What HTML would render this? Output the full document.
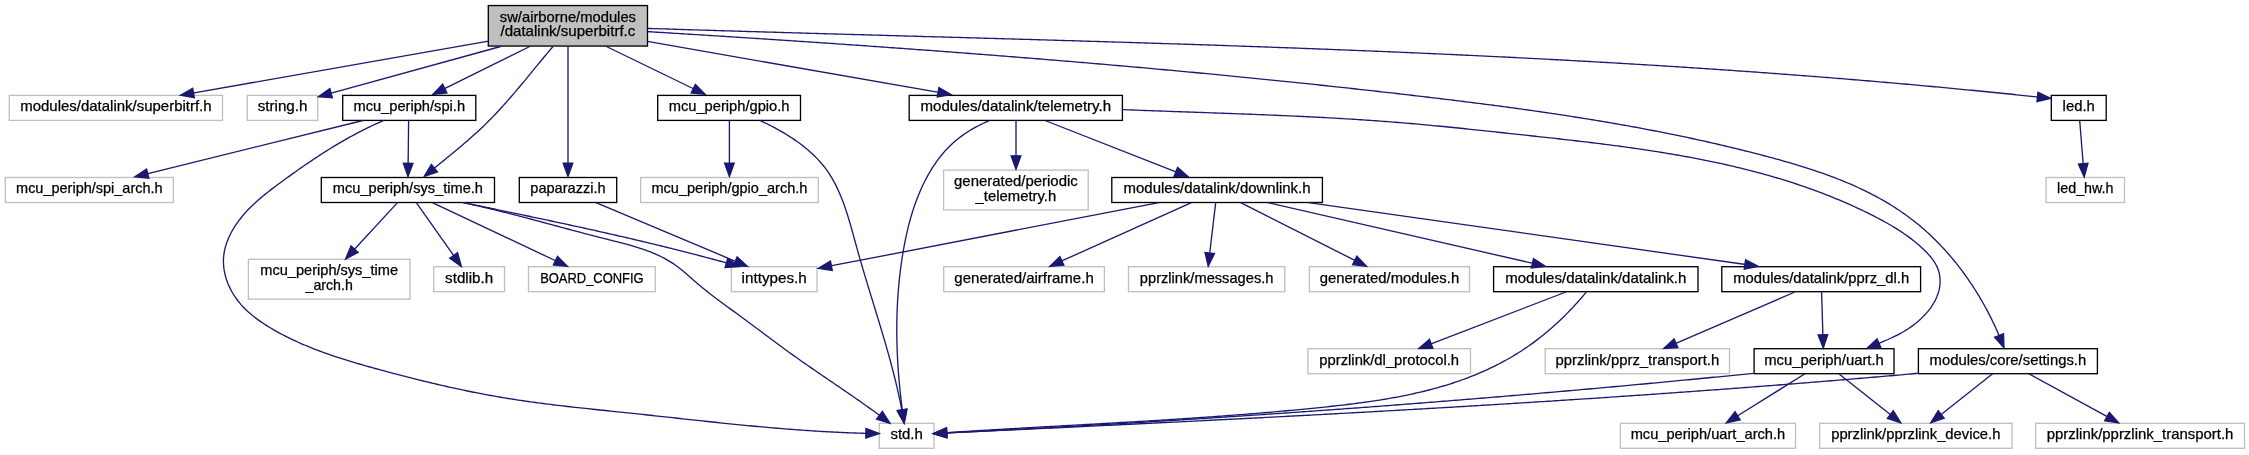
<!DOCTYPE html><html><head><meta charset="utf-8"><style>html,body{margin:0;padding:0;background:#fff;width:2249px;height:455px;overflow:hidden}svg{display:block;will-change:transform}text{font-family:"Liberation Sans",sans-serif;font-size:13.9px;fill:#000;stroke:#000;stroke-width:0.25px}</style></head><body>
<svg width="2249" height="455" viewBox="0 0 2249 455">
<rect x="0" y="0" width="2249" height="455" fill="#fff"/>
<rect x="488.30" y="5.55" width="159.20" height="40.50" fill="#bfbfbf" stroke="#000" stroke-width="1.33"/>
<text x="567.90" y="21.50" text-anchor="middle" textLength="136.14" lengthAdjust="spacingAndGlyphs">sw/airborne/modules</text>
<text x="567.90" y="36.40" text-anchor="middle" textLength="134.85" lengthAdjust="spacingAndGlyphs">/datalink/superbitrf.c</text>
<rect x="9.30" y="95.40" width="213.20" height="25.00" fill="#fff" stroke="#bfbfbf" stroke-width="1.33"/>
<text x="115.90" y="110.90" text-anchor="middle" textLength="191.44" lengthAdjust="spacingAndGlyphs">modules/datalink/superbitrf.h</text>
<rect x="247.30" y="95.40" width="70.50" height="25.00" fill="#fff" stroke="#bfbfbf" stroke-width="1.33"/>
<text x="282.55" y="110.90" text-anchor="middle" textLength="49.69" lengthAdjust="spacingAndGlyphs">string.h</text>
<rect x="342.70" y="95.40" width="133.10" height="25.00" fill="#fff" stroke="#000" stroke-width="1.33"/>
<text x="409.25" y="110.90" text-anchor="middle" textLength="111.64" lengthAdjust="spacingAndGlyphs">mcu_periph/spi.h</text>
<rect x="657.70" y="95.40" width="142.80" height="25.00" fill="#fff" stroke="#000" stroke-width="1.33"/>
<text x="729.10" y="110.90" text-anchor="middle" textLength="120.84" lengthAdjust="spacingAndGlyphs">mcu_periph/gpio.h</text>
<rect x="909.20" y="95.40" width="213.20" height="25.00" fill="#fff" stroke="#000" stroke-width="1.33"/>
<text x="1015.80" y="110.90" text-anchor="middle" textLength="190.54" lengthAdjust="spacingAndGlyphs">modules/datalink/telemetry.h</text>
<rect x="2051.30" y="95.40" width="54.90" height="25.00" fill="#fff" stroke="#000" stroke-width="1.33"/>
<text x="2078.75" y="110.90" text-anchor="middle" textLength="32.23" lengthAdjust="spacingAndGlyphs">led.h</text>
<rect x="5.30" y="177.50" width="168.10" height="25.00" fill="#fff" stroke="#bfbfbf" stroke-width="1.33"/>
<text x="89.35" y="193.00" text-anchor="middle" textLength="146.55" lengthAdjust="spacingAndGlyphs">mcu_periph/spi_arch.h</text>
<rect x="321.30" y="177.50" width="173.20" height="25.00" fill="#fff" stroke="#000" stroke-width="1.33"/>
<text x="407.90" y="193.00" text-anchor="middle" textLength="150.11" lengthAdjust="spacingAndGlyphs">mcu_periph/sys_time.h</text>
<rect x="519.30" y="177.50" width="97.40" height="25.00" fill="#fff" stroke="#000" stroke-width="1.33"/>
<text x="568.00" y="193.00" text-anchor="middle" textLength="75.38" lengthAdjust="spacingAndGlyphs">paparazzi.h</text>
<rect x="640.60" y="177.50" width="177.70" height="25.00" fill="#fff" stroke="#bfbfbf" stroke-width="1.33"/>
<text x="729.45" y="193.00" text-anchor="middle" textLength="155.98" lengthAdjust="spacingAndGlyphs">mcu_periph/gpio_arch.h</text>
<rect x="943.60" y="170.10" width="144.60" height="39.80" fill="#fff" stroke="#bfbfbf" stroke-width="1.33"/>
<text x="1015.90" y="185.70" text-anchor="middle" textLength="123.70" lengthAdjust="spacingAndGlyphs">generated/periodic</text>
<text x="1015.90" y="200.60" text-anchor="middle" textLength="80.52" lengthAdjust="spacingAndGlyphs">_telemetry.h</text>
<rect x="1111.80" y="177.50" width="210.60" height="25.00" fill="#fff" stroke="#000" stroke-width="1.33"/>
<text x="1217.10" y="193.00" text-anchor="middle" textLength="186.96" lengthAdjust="spacingAndGlyphs">modules/datalink/downlink.h</text>
<rect x="2046.10" y="177.50" width="78.40" height="25.00" fill="#fff" stroke="#bfbfbf" stroke-width="1.33"/>
<text x="2085.30" y="193.00" text-anchor="middle" textLength="56.41" lengthAdjust="spacingAndGlyphs">led_hw.h</text>
<rect x="248.40" y="259.30" width="161.60" height="39.80" fill="#fff" stroke="#bfbfbf" stroke-width="1.33"/>
<text x="329.20" y="274.90" text-anchor="middle" textLength="137.74" lengthAdjust="spacingAndGlyphs">mcu_periph/sys_time</text>
<text x="329.20" y="289.80" text-anchor="middle" textLength="47.28" lengthAdjust="spacingAndGlyphs">_arch.h</text>
<rect x="433.70" y="266.70" width="70.80" height="25.00" fill="#fff" stroke="#bfbfbf" stroke-width="1.33"/>
<text x="469.10" y="283.20" text-anchor="middle" textLength="47.97" lengthAdjust="spacingAndGlyphs">stdlib.h</text>
<rect x="528.50" y="266.70" width="126.80" height="25.00" fill="#fff" stroke="#bfbfbf" stroke-width="1.33"/>
<text x="591.90" y="283.20" text-anchor="middle" textLength="103.55" lengthAdjust="spacingAndGlyphs">BOARD_CONFIG</text>
<rect x="731.40" y="266.70" width="85.60" height="25.00" fill="#fff" stroke="#bfbfbf" stroke-width="1.33"/>
<text x="774.20" y="283.20" text-anchor="middle" textLength="65.13" lengthAdjust="spacingAndGlyphs">inttypes.h</text>
<rect x="943.70" y="266.70" width="160.70" height="25.00" fill="#fff" stroke="#bfbfbf" stroke-width="1.33"/>
<text x="1024.05" y="283.20" text-anchor="middle" textLength="139.37" lengthAdjust="spacingAndGlyphs">generated/airframe.h</text>
<rect x="1128.50" y="266.70" width="156.30" height="25.00" fill="#fff" stroke="#bfbfbf" stroke-width="1.33"/>
<text x="1206.65" y="283.20" text-anchor="middle" textLength="133.61" lengthAdjust="spacingAndGlyphs">pprzlink/messages.h</text>
<rect x="1309.40" y="266.70" width="160.10" height="25.00" fill="#fff" stroke="#bfbfbf" stroke-width="1.33"/>
<text x="1389.45" y="283.20" text-anchor="middle" textLength="139.39" lengthAdjust="spacingAndGlyphs">generated/modules.h</text>
<rect x="1493.60" y="266.70" width="204.40" height="25.00" fill="#fff" stroke="#000" stroke-width="1.33"/>
<text x="1595.80" y="283.20" text-anchor="middle" textLength="181.17" lengthAdjust="spacingAndGlyphs">modules/datalink/datalink.h</text>
<rect x="1721.80" y="266.70" width="198.80" height="25.00" fill="#fff" stroke="#000" stroke-width="1.33"/>
<text x="1821.20" y="283.20" text-anchor="middle" textLength="175.93" lengthAdjust="spacingAndGlyphs">modules/datalink/pprz_dl.h</text>
<rect x="1307.90" y="348.70" width="162.60" height="25.00" fill="#fff" stroke="#bfbfbf" stroke-width="1.33"/>
<text x="1389.20" y="365.20" text-anchor="middle" textLength="139.81" lengthAdjust="spacingAndGlyphs">pprzlink/dl_protocol.h</text>
<rect x="1545.20" y="348.70" width="184.30" height="25.00" fill="#fff" stroke="#bfbfbf" stroke-width="1.33"/>
<text x="1637.35" y="365.20" text-anchor="middle" textLength="163.65" lengthAdjust="spacingAndGlyphs">pprzlink/pprz_transport.h</text>
<rect x="1754.10" y="348.70" width="139.90" height="25.00" fill="#fff" stroke="#000" stroke-width="1.33"/>
<text x="1824.05" y="365.20" text-anchor="middle" textLength="119.65" lengthAdjust="spacingAndGlyphs">mcu_periph/uart.h</text>
<rect x="1918.40" y="348.70" width="179.00" height="25.00" fill="#fff" stroke="#000" stroke-width="1.33"/>
<text x="2007.90" y="365.20" text-anchor="middle" textLength="156.62" lengthAdjust="spacingAndGlyphs">modules/core/settings.h</text>
<rect x="879.30" y="423.30" width="54.70" height="25.00" fill="#fff" stroke="#bfbfbf" stroke-width="1.33"/>
<text x="906.65" y="438.80" text-anchor="middle" textLength="32.49" lengthAdjust="spacingAndGlyphs">std.h</text>
<rect x="1620.40" y="423.30" width="175.10" height="25.00" fill="#fff" stroke="#bfbfbf" stroke-width="1.33"/>
<text x="1707.95" y="438.80" text-anchor="middle" textLength="154.56" lengthAdjust="spacingAndGlyphs">mcu_periph/uart_arch.h</text>
<rect x="1819.60" y="423.30" width="192.40" height="25.00" fill="#fff" stroke="#bfbfbf" stroke-width="1.33"/>
<text x="1915.80" y="438.80" text-anchor="middle" textLength="169.28" lengthAdjust="spacingAndGlyphs">pprzlink/pprzlink_device.h</text>
<rect x="2035.60" y="423.30" width="208.90" height="25.00" fill="#fff" stroke="#bfbfbf" stroke-width="1.33"/>
<text x="2140.05" y="438.80" text-anchor="middle" textLength="186.64" lengthAdjust="spacingAndGlyphs">pprzlink/pprzlink_transport.h</text>
<g fill="none" stroke="#191970" stroke-width="1.33">
<path d="M488.50,41.20 L192.73,93.10"/>
<path d="M500.60,46.50 L330.35,93.46"/>
<path d="M529.70,46.50 L444.05,88.89"/>
<path d="M553.00,46.50 L551.33,48.45 L549.68,50.40 L548.02,52.36 L546.37,54.32 L544.73,56.29 L543.09,58.26 L541.45,60.24 L539.81,62.22 L538.18,64.20 L536.55,66.18 L534.92,68.16 L533.29,70.15 L531.66,72.14 L530.03,74.12 L528.40,76.11 L526.77,78.09 L525.13,80.07 L523.50,82.05 L521.86,84.02 L520.21,86.00 L518.57,87.97 L516.91,89.93 L515.26,91.89 L513.59,93.84 L511.92,95.79 L510.25,97.73 L508.56,99.66 L506.87,101.59 L505.17,103.50 L503.47,105.41 L501.75,107.31 L500.02,109.20 L498.28,111.07 L496.54,112.94 L494.78,114.80 L493.00,116.64 L491.22,118.47 L489.42,120.29 L487.61,122.09 L485.79,123.88 L483.95,125.65 L482.10,127.42 L480.24,129.17 L478.37,130.91 L476.49,132.64 L474.59,134.36 L472.69,136.07 L470.78,137.76 L468.86,139.45 L466.93,141.14 L464.99,142.81 L463.05,144.48 L461.10,146.14 L459.14,147.79 L457.18,149.44 L455.22,151.08 L453.24,152.72 L451.27,154.35 L449.29,155.98 L447.31,157.61 L445.33,159.24 L443.34,160.86 L441.35,162.48 L439.37,164.10 L437.38,165.72 L435.39,167.34 L433.80,168.64"/>
<path d="M568.00,46.50 L568.00,164.07"/>
<path d="M606.40,46.50 L694.01,88.98"/>
<path d="M647.40,41.40 L938.87,92.40"/>
<path d="M647.40,31.60 L649.90,31.76 L652.40,31.91 L654.90,32.06 L657.40,32.22 L659.89,32.37 L662.39,32.52 L664.89,32.68 L667.39,32.83 L669.89,32.99 L672.39,33.14 L674.89,33.29 L677.39,33.45 L679.89,33.60 L682.39,33.76 L684.89,33.91 L687.38,34.07 L689.88,34.23 L692.38,34.38 L694.88,34.54 L697.38,34.70 L699.88,34.85 L702.38,35.01 L704.88,35.17 L707.38,35.32 L709.88,35.48 L712.38,35.64 L714.88,35.80 L717.38,35.96 L719.88,36.11 L722.37,36.27 L724.87,36.43 L727.37,36.59 L729.87,36.75 L732.37,36.91 L734.87,37.07 L737.37,37.23 L739.87,37.39 L742.37,37.55 L744.87,37.71 L747.37,37.88 L749.87,38.04 L752.37,38.20 L754.87,38.36 L757.37,38.52 L759.87,38.69 L762.37,38.85 L764.87,39.01 L767.37,39.18 L769.87,39.34 L772.37,39.50 L774.87,39.67 L777.37,39.83 L779.86,40.00 L782.36,40.16 L784.86,40.33 L787.36,40.49 L789.86,40.66 L792.36,40.83 L794.86,40.99 L797.36,41.16 L799.86,41.33 L802.36,41.49 L804.86,41.66 L807.36,41.83 L809.86,42.00 L812.36,42.17 L814.86,42.34 L817.36,42.50 L819.86,42.67 L822.36,42.84 L824.86,43.01 L827.36,43.18 L829.86,43.36 L832.36,43.53 L834.86,43.70 L837.36,43.87 L839.86,44.04 L842.36,44.21 L844.86,44.39 L847.36,44.56 L849.86,44.73 L852.35,44.91 L854.85,45.08 L857.35,45.25 L859.85,45.43 L862.35,45.60 L864.85,45.78 L867.35,45.96 L869.85,46.13 L872.35,46.31 L874.85,46.48 L877.35,46.66 L879.85,46.84 L882.35,47.02 L884.85,47.19 L887.35,47.37 L889.85,47.55 L892.35,47.73 L894.85,47.91 L897.35,48.09 L899.85,48.27 L902.34,48.45 L904.84,48.63 L907.34,48.81 L909.84,48.99 L912.34,49.18 L914.84,49.36 L917.34,49.54 L919.84,49.72 L922.34,49.91 L924.84,50.09 L927.34,50.28 L929.84,50.46 L932.34,50.64 L934.83,50.83 L937.33,51.02 L939.83,51.20 L942.33,51.39 L944.83,51.58 L947.33,51.76 L949.83,51.95 L952.33,52.14 L954.83,52.33 L957.33,52.52 L959.82,52.71 L962.32,52.89 L964.82,53.08 L967.32,53.28 L969.82,53.47 L972.32,53.66 L974.82,53.85 L977.32,54.04 L979.81,54.23 L982.31,54.43 L984.81,54.62 L987.31,54.81 L989.81,55.01 L992.31,55.20 L994.80,55.40 L997.30,55.59 L999.80,55.79 L1002.30,55.99 L1004.80,56.18 L1007.30,56.38 L1009.79,56.58 L1012.29,56.77 L1014.79,56.97 L1017.29,57.17 L1019.79,57.37 L1022.29,57.57 L1024.78,57.77 L1027.28,57.97 L1029.78,58.17 L1032.28,58.37 L1034.78,58.58 L1037.27,58.78 L1039.77,58.98 L1042.27,59.19 L1044.77,59.39 L1047.26,59.59 L1049.76,59.80 L1052.26,60.00 L1054.76,60.21 L1057.25,60.42 L1059.75,60.62 L1062.25,60.83 L1064.75,61.04 L1067.24,61.24 L1069.74,61.45 L1072.24,61.66 L1074.73,61.87 L1077.23,62.08 L1079.73,62.29 L1082.23,62.50 L1084.72,62.71 L1087.22,62.93 L1089.72,63.14 L1092.21,63.35 L1094.71,63.56 L1097.21,63.78 L1099.70,63.99 L1102.20,64.21 L1104.70,64.42 L1107.19,64.64 L1109.69,64.85 L1112.19,65.07 L1114.68,65.29 L1117.18,65.51 L1119.67,65.72 L1122.17,65.94 L1124.67,66.16 L1127.16,66.38 L1129.66,66.60 L1132.16,66.82 L1134.65,67.04 L1137.15,67.27 L1139.64,67.49 L1142.14,67.71 L1144.63,67.94 L1147.13,68.16 L1149.63,68.38 L1152.12,68.61 L1154.62,68.83 L1157.11,69.06 L1159.61,69.29 L1162.10,69.51 L1164.60,69.74 L1167.09,69.97 L1169.59,70.20 L1172.08,70.43 L1174.58,70.66 L1177.07,70.89 L1179.57,71.12 L1182.06,71.35 L1184.56,71.58 L1187.05,71.82 L1189.55,72.05 L1192.04,72.28 L1194.53,72.52 L1197.03,72.75 L1199.52,72.99 L1202.02,73.22 L1204.51,73.46 L1207.00,73.70 L1209.50,73.93 L1211.99,74.17 L1214.49,74.41 L1216.98,74.65 L1219.47,74.89 L1221.97,75.13 L1224.46,75.37 L1226.95,75.61 L1229.45,75.86 L1231.94,76.10 L1234.43,76.34 L1236.93,76.59 L1239.42,76.83 L1241.91,77.08 L1244.41,77.32 L1246.90,77.57 L1249.39,77.81 L1251.88,78.06 L1254.38,78.31 L1256.87,78.56 L1259.36,78.81 L1261.85,79.06 L1264.35,79.31 L1266.84,79.56 L1269.33,79.81 L1271.82,80.06 L1274.32,80.32 L1276.81,80.57 L1279.30,80.82 L1281.79,81.08 L1284.28,81.33 L1286.77,81.59 L1289.27,81.85 L1291.76,82.10 L1294.25,82.36 L1296.74,82.62 L1299.23,82.88 L1301.72,83.14 L1304.21,83.40 L1306.70,83.66 L1309.19,83.92 L1311.68,84.18 L1314.18,84.45 L1316.67,84.71 L1319.16,84.98 L1321.65,85.24 L1324.14,85.51 L1326.63,85.77 L1329.12,86.04 L1331.61,86.31 L1334.10,86.57 L1336.59,86.84 L1339.08,87.11 L1341.57,87.38 L1344.06,87.65 L1346.54,87.92 L1349.03,88.20 L1351.52,88.47 L1354.01,88.74 L1356.50,89.02 L1358.99,89.29 L1361.48,89.57 L1363.97,89.84 L1366.46,90.12 L1368.94,90.40 L1371.43,90.67 L1373.92,90.95 L1376.41,91.23 L1378.90,91.51 L1381.39,91.79 L1383.87,92.08 L1386.36,92.36 L1388.85,92.64 L1391.34,92.92 L1393.82,93.21 L1396.31,93.49 L1398.80,93.78 L1401.29,94.06 L1403.77,94.35 L1406.26,94.64 L1408.75,94.93 L1411.23,95.22 L1413.72,95.51 L1416.21,95.80 L1418.69,96.09 L1421.18,96.38 L1423.67,96.67 L1426.15,96.97 L1428.64,97.26 L1431.12,97.56 L1433.61,97.85 L1436.10,98.15 L1438.58,98.45 L1441.07,98.75 L1443.55,99.04 L1446.04,99.35 L1448.52,99.65 L1451.01,99.95 L1453.49,100.25 L1455.98,100.56 L1458.46,100.86 L1460.94,101.17 L1463.43,101.48 L1465.91,101.79 L1468.40,102.10 L1470.88,102.41 L1473.36,102.72 L1475.85,103.04 L1478.33,103.35 L1480.81,103.67 L1483.29,103.99 L1485.78,104.31 L1488.26,104.63 L1490.74,104.95 L1493.22,105.28 L1495.70,105.60 L1498.19,105.93 L1500.67,106.26 L1503.15,106.59 L1505.63,106.92 L1508.11,107.26 L1510.59,107.59 L1513.07,107.93 L1515.55,108.27 L1518.03,108.61 L1520.51,108.95 L1522.99,109.29 L1525.47,109.64 L1527.94,109.99 L1530.42,110.33 L1532.90,110.69 L1535.38,111.04 L1537.86,111.39 L1540.33,111.75 L1542.81,112.11 L1545.29,112.47 L1547.76,112.83 L1550.24,113.20 L1552.72,113.57 L1555.19,113.94 L1557.67,114.31 L1560.14,114.68 L1562.62,115.06 L1565.09,115.43 L1567.57,115.81 L1570.04,116.20 L1572.51,116.58 L1574.99,116.97 L1577.46,117.36 L1579.93,117.75 L1582.41,118.14 L1584.88,118.54 L1587.35,118.94 L1589.82,119.34 L1592.29,119.74 L1594.76,120.15 L1597.23,120.56 L1599.70,120.97 L1602.17,121.39 L1604.64,121.80 L1607.11,122.22 L1609.58,122.64 L1612.05,123.07 L1614.52,123.50 L1616.98,123.93 L1619.45,124.36 L1621.92,124.80 L1624.39,125.24 L1626.85,125.68 L1629.32,126.12 L1631.78,126.57 L1634.25,127.02 L1636.71,127.47 L1639.18,127.93 L1641.64,128.39 L1644.10,128.85 L1646.57,129.32 L1649.03,129.78 L1651.49,130.26 L1653.95,130.73 L1656.42,131.21 L1658.88,131.69 L1661.34,132.17 L1663.80,132.66 L1666.26,133.15 L1668.72,133.65 L1671.18,134.14 L1673.64,134.64 L1676.09,135.15 L1678.55,135.66 L1681.01,136.17 L1683.47,136.68 L1685.92,137.20 L1688.38,137.72 L1690.83,138.25 L1693.29,138.77 L1695.74,139.31 L1698.20,139.84 L1700.65,140.38 L1703.10,140.92 L1705.56,141.47 L1708.01,142.02 L1710.46,142.57 L1712.91,143.13 L1715.36,143.69 L1717.81,144.26 L1720.26,144.83 L1722.71,145.40 L1725.16,145.98 L1727.61,146.56 L1730.06,147.14 L1732.50,147.73 L1734.95,148.32 L1737.40,148.92 L1739.84,149.52 L1742.29,150.13 L1744.73,150.73 L1747.18,151.35 L1749.62,151.96 L1752.06,152.59 L1754.51,153.21 L1756.95,153.84 L1759.39,154.47 L1761.83,155.11 L1764.27,155.75 L1766.71,156.40 L1769.15,157.05 L1771.59,157.71 L1774.02,158.37 L1776.46,159.04 L1778.89,159.71 L1781.32,160.39 L1783.75,161.08 L1786.17,161.77 L1788.60,162.47 L1791.02,163.18 L1793.44,163.90 L1795.85,164.62 L1798.26,165.35 L1800.67,166.09 L1803.07,166.83 L1805.47,167.59 L1807.87,168.36 L1810.26,169.13 L1812.64,169.91 L1815.03,170.71 L1817.40,171.51 L1819.77,172.33 L1822.14,173.15 L1824.50,173.99 L1826.85,174.84 L1829.20,175.69 L1831.54,176.56 L1833.88,177.45 L1836.21,178.34 L1838.53,179.25 L1840.84,180.17 L1843.15,181.10 L1845.45,182.05 L1847.74,183.01 L1850.02,183.98 L1852.30,184.97 L1854.57,185.97 L1856.83,186.99 L1859.08,188.02 L1861.32,189.07 L1863.55,190.13 L1865.77,191.21 L1867.98,192.30 L1870.19,193.41 L1872.38,194.54 L1874.56,195.68 L1876.74,196.84 L1878.90,198.02 L1881.05,199.21 L1883.19,200.42 L1885.32,201.66 L1887.44,202.91 L1889.54,204.17 L1891.64,205.46 L1893.72,206.77 L1895.79,208.09 L1897.85,209.44 L1899.89,210.80 L1901.92,212.19 L1903.94,213.59 L1905.95,215.02 L1907.94,216.46 L1909.92,217.93 L1911.89,219.42 L1913.84,220.93 L1915.77,222.47 L1917.69,224.02 L1919.60,225.60 L1921.50,227.20 L1923.37,228.82 L1925.24,230.46 L1927.09,232.12 L1928.92,233.80 L1930.74,235.50 L1932.54,237.22 L1934.33,238.96 L1936.10,240.72 L1937.86,242.50 L1939.60,244.30 L1941.33,246.11 L1943.04,247.94 L1944.74,249.79 L1946.42,251.66 L1948.08,253.54 L1949.73,255.44 L1951.36,257.36 L1952.98,259.29 L1954.58,261.24 L1956.16,263.20 L1957.73,265.18 L1959.28,267.17 L1960.81,269.18 L1962.33,271.20 L1963.83,273.24 L1965.31,275.29 L1966.78,277.35 L1968.23,279.42 L1969.66,281.51 L1971.08,283.61 L1972.48,285.73 L1973.86,287.85 L1975.22,289.99 L1976.57,292.14 L1977.90,294.29 L1979.21,296.46 L1980.50,298.64 L1981.78,300.83 L1983.04,303.03 L1984.28,305.24 L1985.50,307.46 L1986.70,309.69 L1987.89,311.92 L1989.05,314.16 L1990.20,316.42 L1991.33,318.67 L1992.44,320.94 L1993.53,323.21 L1994.61,325.50 L1995.66,327.78 L1996.70,330.07 L1997.72,332.37 L1998.71,334.68 L1999.37,336.22"/>
<path d="M647.40,28.40 L649.91,28.47 L652.41,28.55 L654.91,28.63 L657.42,28.71 L659.92,28.79 L662.43,28.87 L664.93,28.95 L667.44,29.03 L669.94,29.11 L672.44,29.19 L674.95,29.27 L677.45,29.34 L679.96,29.42 L682.46,29.50 L684.97,29.58 L687.47,29.66 L689.98,29.73 L692.48,29.81 L694.99,29.89 L697.49,29.96 L699.99,30.04 L702.50,30.12 L705.00,30.19 L707.51,30.27 L710.01,30.35 L712.52,30.42 L715.02,30.50 L717.53,30.57 L720.03,30.65 L722.54,30.72 L725.04,30.80 L727.55,30.87 L730.05,30.95 L732.56,31.02 L735.06,31.10 L737.57,31.17 L740.07,31.25 L742.58,31.32 L745.08,31.40 L747.59,31.47 L750.09,31.54 L752.60,31.62 L755.10,31.69 L757.61,31.77 L760.11,31.84 L762.62,31.91 L765.12,31.99 L767.63,32.06 L770.14,32.13 L772.64,32.21 L775.15,32.28 L777.65,32.35 L780.16,32.42 L782.66,32.50 L785.17,32.57 L787.67,32.64 L790.18,32.71 L792.68,32.79 L795.19,32.86 L797.69,32.93 L800.20,33.00 L802.71,33.07 L805.21,33.15 L807.72,33.22 L810.22,33.29 L812.73,33.36 L815.23,33.43 L817.74,33.50 L820.24,33.58 L822.75,33.65 L825.26,33.72 L827.76,33.79 L830.27,33.86 L832.77,33.93 L835.28,34.00 L837.78,34.07 L840.29,34.14 L842.80,34.21 L845.30,34.29 L847.81,34.36 L850.31,34.43 L852.82,34.50 L855.33,34.57 L857.83,34.64 L860.34,34.71 L862.84,34.78 L865.35,34.85 L867.85,34.92 L870.36,34.99 L872.87,35.06 L875.37,35.13 L877.88,35.20 L880.38,35.27 L882.89,35.34 L885.40,35.41 L887.90,35.48 L890.41,35.55 L892.91,35.62 L895.42,35.70 L897.93,35.77 L900.43,35.84 L902.94,35.91 L905.44,35.98 L907.95,36.05 L910.46,36.12 L912.96,36.19 L915.47,36.26 L917.97,36.33 L920.48,36.40 L922.99,36.47 L925.49,36.54 L928.00,36.61 L930.51,36.68 L933.01,36.75 L935.52,36.82 L938.02,36.89 L940.53,36.96 L943.04,37.03 L945.54,37.10 L948.05,37.17 L950.55,37.24 L953.06,37.31 L955.57,37.38 L958.07,37.45 L960.58,37.52 L963.09,37.60 L965.59,37.67 L968.10,37.74 L970.60,37.81 L973.11,37.88 L975.62,37.95 L978.12,38.02 L980.63,38.09 L983.14,38.16 L985.64,38.23 L988.15,38.30 L990.65,38.38 L993.16,38.45 L995.67,38.52 L998.17,38.59 L1000.68,38.66 L1003.19,38.73 L1005.69,38.80 L1008.20,38.88 L1010.70,38.95 L1013.21,39.02 L1015.72,39.09 L1018.22,39.16 L1020.73,39.24 L1023.24,39.31 L1025.74,39.38 L1028.25,39.45 L1030.75,39.53 L1033.26,39.60 L1035.77,39.67 L1038.27,39.74 L1040.78,39.82 L1043.29,39.89 L1045.79,39.96 L1048.30,40.04 L1050.81,40.11 L1053.31,40.18 L1055.82,40.26 L1058.32,40.33 L1060.83,40.40 L1063.34,40.48 L1065.84,40.55 L1068.35,40.63 L1070.86,40.70 L1073.36,40.77 L1075.87,40.85 L1078.37,40.92 L1080.88,41.00 L1083.39,41.07 L1085.89,41.15 L1088.40,41.22 L1090.91,41.30 L1093.41,41.37 L1095.92,41.45 L1098.43,41.53 L1100.93,41.60 L1103.44,41.68 L1105.94,41.75 L1108.45,41.83 L1110.96,41.91 L1113.46,41.98 L1115.97,42.06 L1118.48,42.14 L1120.98,42.21 L1123.49,42.29 L1125.99,42.37 L1128.50,42.45 L1131.01,42.52 L1133.51,42.60 L1136.02,42.68 L1138.53,42.76 L1141.03,42.84 L1143.54,42.91 L1146.04,42.99 L1148.55,43.07 L1151.06,43.15 L1153.56,43.23 L1156.07,43.31 L1158.57,43.39 L1161.08,43.47 L1163.59,43.55 L1166.09,43.63 L1168.60,43.71 L1171.11,43.79 L1173.61,43.87 L1176.12,43.95 L1178.62,44.03 L1181.13,44.12 L1183.64,44.20 L1186.14,44.28 L1188.65,44.36 L1191.15,44.44 L1193.66,44.53 L1196.17,44.61 L1198.67,44.69 L1201.18,44.78 L1203.68,44.86 L1206.19,44.94 L1208.70,45.03 L1211.20,45.11 L1213.71,45.19 L1216.21,45.28 L1218.72,45.36 L1221.23,45.45 L1223.73,45.53 L1226.24,45.62 L1228.74,45.71 L1231.25,45.79 L1233.75,45.88 L1236.26,45.96 L1238.77,46.05 L1241.27,46.14 L1243.78,46.22 L1246.28,46.31 L1248.79,46.40 L1251.30,46.49 L1253.80,46.58 L1256.31,46.66 L1258.81,46.75 L1261.32,46.84 L1263.82,46.93 L1266.33,47.02 L1268.84,47.11 L1271.34,47.20 L1273.85,47.29 L1276.35,47.38 L1278.86,47.47 L1281.36,47.56 L1283.87,47.66 L1286.37,47.75 L1288.88,47.84 L1291.39,47.93 L1293.89,48.02 L1296.40,48.12 L1298.90,48.21 L1301.41,48.30 L1303.91,48.40 L1306.42,48.49 L1308.92,48.59 L1311.43,48.68 L1313.93,48.78 L1316.44,48.87 L1318.95,48.97 L1321.45,49.06 L1323.96,49.16 L1326.46,49.26 L1328.97,49.35 L1331.47,49.45 L1333.98,49.55 L1336.48,49.65 L1338.99,49.74 L1341.49,49.84 L1344.00,49.94 L1346.50,50.04 L1349.01,50.14 L1351.51,50.24 L1354.02,50.34 L1356.52,50.44 L1359.03,50.54 L1361.53,50.64 L1364.04,50.74 L1366.54,50.85 L1369.05,50.95 L1371.55,51.05 L1374.06,51.15 L1376.56,51.26 L1379.07,51.36 L1381.57,51.46 L1384.08,51.57 L1386.58,51.67 L1389.09,51.78 L1391.59,51.88 L1394.10,51.99 L1396.60,52.09 L1399.11,52.20 L1401.61,52.31 L1404.12,52.42 L1406.62,52.52 L1409.12,52.63 L1411.63,52.74 L1414.13,52.85 L1416.64,52.96 L1419.14,53.07 L1421.65,53.18 L1424.15,53.29 L1426.66,53.40 L1429.16,53.51 L1431.66,53.62 L1434.17,53.73 L1436.67,53.84 L1439.18,53.96 L1441.68,54.07 L1444.19,54.18 L1446.69,54.30 L1449.19,54.41 L1451.70,54.53 L1454.20,54.64 L1456.71,54.76 L1459.21,54.87 L1461.72,54.99 L1464.22,55.11 L1466.72,55.22 L1469.23,55.34 L1471.73,55.46 L1474.23,55.58 L1476.74,55.70 L1479.24,55.82 L1481.75,55.94 L1484.25,56.06 L1486.75,56.18 L1489.26,56.30 L1491.76,56.42 L1494.27,56.54 L1496.77,56.66 L1499.27,56.79 L1501.78,56.91 L1504.28,57.03 L1506.78,57.16 L1509.29,57.28 L1511.79,57.41 L1514.29,57.53 L1516.80,57.66 L1519.30,57.79 L1521.80,57.91 L1524.31,58.04 L1526.81,58.17 L1529.31,58.30 L1531.82,58.43 L1534.32,58.56 L1536.82,58.69 L1539.33,58.82 L1541.83,58.95 L1544.33,59.08 L1546.83,59.21 L1549.34,59.34 L1551.84,59.47 L1554.34,59.61 L1556.85,59.74 L1559.35,59.88 L1561.85,60.01 L1564.35,60.15 L1566.86,60.28 L1569.36,60.42 L1571.86,60.55 L1574.37,60.69 L1576.87,60.83 L1579.37,60.97 L1581.87,61.11 L1584.38,61.25 L1586.88,61.39 L1589.38,61.53 L1591.88,61.67 L1594.39,61.81 L1596.89,61.95 L1599.39,62.09 L1601.89,62.24 L1604.39,62.38 L1606.90,62.52 L1609.40,62.67 L1611.90,62.81 L1614.40,62.96 L1616.90,63.10 L1619.41,63.25 L1621.91,63.40 L1624.41,63.55 L1626.91,63.69 L1629.41,63.84 L1631.92,63.99 L1634.42,64.14 L1636.92,64.29 L1639.42,64.44 L1641.92,64.60 L1644.42,64.75 L1646.92,64.90 L1649.43,65.05 L1651.93,65.21 L1654.43,65.36 L1656.93,65.52 L1659.43,65.67 L1661.93,65.83 L1664.43,65.99 L1666.94,66.14 L1669.44,66.30 L1671.94,66.46 L1674.44,66.62 L1676.94,66.78 L1679.44,66.94 L1681.94,67.10 L1684.44,67.26 L1686.94,67.42 L1689.44,67.59 L1691.94,67.75 L1694.45,67.91 L1696.95,68.08 L1699.45,68.24 L1701.95,68.41 L1704.45,68.57 L1706.95,68.74 L1709.45,68.91 L1711.95,69.08 L1714.45,69.24 L1716.95,69.41 L1719.45,69.58 L1721.95,69.75 L1724.45,69.93 L1726.95,70.10 L1729.45,70.27 L1731.95,70.44 L1734.45,70.62 L1736.95,70.79 L1739.45,70.97 L1741.95,71.14 L1744.45,71.32 L1746.95,71.49 L1749.45,71.67 L1751.95,71.85 L1754.45,72.03 L1756.95,72.21 L1759.45,72.39 L1761.95,72.57 L1764.45,72.75 L1766.95,72.93 L1769.44,73.12 L1771.94,73.30 L1774.44,73.48 L1776.94,73.67 L1779.44,73.85 L1781.94,74.04 L1784.44,74.23 L1786.94,74.41 L1789.44,74.60 L1791.94,74.79 L1794.43,74.98 L1796.93,75.17 L1799.43,75.36 L1801.93,75.55 L1804.43,75.74 L1806.93,75.94 L1809.43,76.13 L1811.92,76.32 L1814.42,76.52 L1816.92,76.71 L1819.42,76.91 L1821.92,77.11 L1824.42,77.31 L1826.91,77.50 L1829.41,77.70 L1831.91,77.90 L1834.41,78.10 L1836.91,78.30 L1839.40,78.51 L1841.90,78.71 L1844.40,78.91 L1846.90,79.12 L1849.39,79.32 L1851.89,79.53 L1854.39,79.73 L1856.89,79.94 L1859.38,80.15 L1861.88,80.36 L1864.38,80.57 L1866.88,80.78 L1869.37,80.99 L1871.87,81.20 L1874.37,81.41 L1876.86,81.62 L1879.36,81.84 L1881.86,82.05 L1884.36,82.27 L1886.85,82.48 L1889.35,82.70 L1891.85,82.92 L1894.34,83.13 L1896.84,83.35 L1899.34,83.57 L1901.83,83.79 L1904.33,84.01 L1906.82,84.24 L1909.32,84.46 L1911.82,84.68 L1914.31,84.91 L1916.81,85.13 L1919.30,85.36 L1921.80,85.58 L1924.30,85.81 L1926.79,86.04 L1929.29,86.27 L1931.78,86.50 L1934.28,86.73 L1936.78,86.96 L1939.27,87.19 L1941.77,87.42 L1944.26,87.66 L1946.76,87.89 L1949.25,88.13 L1951.75,88.36 L1954.24,88.60 L1956.74,88.84 L1959.23,89.08 L1961.73,89.32 L1964.22,89.56 L1966.72,89.80 L1969.21,90.04 L1971.71,90.28 L1974.20,90.52 L1976.70,90.77 L1979.19,91.01 L1981.68,91.26 L1984.18,91.51 L1986.67,91.75 L1989.17,92.00 L1991.66,92.25 L1994.16,92.50 L1996.65,92.75 L1999.14,93.00 L2001.64,93.25 L2004.13,93.51 L2006.63,93.76 L2009.12,94.02 L2011.61,94.27 L2014.11,94.53 L2016.60,94.79 L2019.09,95.05 L2021.59,95.30 L2024.08,95.57 L2026.57,95.83 L2029.07,96.09 L2031.56,96.35 L2034.05,96.61 L2036.55,96.88 L2038.25,97.06"/>
<path d="M363.00,120.50 L146.94,173.81"/>
<path d="M408.60,120.50 L408.14,164.07"/>
<path d="M383.60,120.50 L381.26,121.52 L378.92,122.55 L376.61,123.60 L374.30,124.66 L372.01,125.74 L369.73,126.82 L367.46,127.92 L365.20,129.04 L362.95,130.16 L360.72,131.30 L358.49,132.45 L356.28,133.62 L354.07,134.79 L351.88,135.98 L349.69,137.18 L347.51,138.39 L345.35,139.61 L343.19,140.84 L341.04,142.09 L338.89,143.34 L336.76,144.61 L334.63,145.89 L332.51,147.17 L330.39,148.47 L328.29,149.78 L326.18,151.10 L324.09,152.42 L322.00,153.76 L319.91,155.11 L317.83,156.46 L315.76,157.83 L313.69,159.20 L311.62,160.59 L309.56,161.98 L307.50,163.38 L305.44,164.79 L303.39,166.20 L301.34,167.63 L299.29,169.06 L297.24,170.50 L295.20,171.95 L293.15,173.41 L291.11,174.87 L289.07,176.34 L287.03,177.82 L284.99,179.30 L282.95,180.79 L280.91,182.29 L278.87,183.79 L276.83,185.30 L274.79,186.82 L272.76,188.35 L270.73,189.90 L268.72,191.46 L266.72,193.03 L264.73,194.62 L262.75,196.24 L260.80,197.87 L258.86,199.52 L256.95,201.21 L255.06,202.91 L253.20,204.65 L251.37,206.41 L249.56,208.21 L247.79,210.03 L246.06,211.90 L244.36,213.80 L242.70,215.74 L241.09,217.71 L239.52,219.72 L238.00,221.77 L236.53,223.85 L235.12,225.97 L233.78,228.11 L232.49,230.28 L231.28,232.48 L230.13,234.70 L229.07,236.95 L228.08,239.22 L227.18,241.51 L226.37,243.81 L225.64,246.14 L225.01,248.48 L224.49,250.83 L224.06,253.19 L223.74,255.56 L223.53,257.95 L223.43,260.33 L223.45,262.72 L223.57,265.12 L223.79,267.50 L224.12,269.89 L224.55,272.26 L225.07,274.62 L225.69,276.97 L226.40,279.30 L227.21,281.61 L228.10,283.90 L229.07,286.16 L230.13,288.39 L231.27,290.59 L232.48,292.75 L233.77,294.88 L235.14,296.96 L236.57,299.00 L238.07,300.99 L239.64,302.93 L241.26,304.83 L242.95,306.67 L244.69,308.47 L246.49,310.23 L248.34,311.94 L250.23,313.61 L252.17,315.24 L254.15,316.83 L256.16,318.38 L258.22,319.89 L260.30,321.37 L262.41,322.81 L264.55,324.23 L266.72,325.61 L268.90,326.96 L271.10,328.28 L273.31,329.57 L275.53,330.84 L277.77,332.08 L280.01,333.30 L282.25,334.49 L284.51,335.67 L286.77,336.82 L289.03,337.94 L291.30,339.05 L293.58,340.14 L295.87,341.20 L298.16,342.24 L300.46,343.27 L302.76,344.27 L305.07,345.26 L307.38,346.23 L309.70,347.18 L312.02,348.12 L314.35,349.04 L316.69,349.94 L319.02,350.82 L321.37,351.70 L323.71,352.55 L326.07,353.39 L328.42,354.22 L330.78,355.04 L333.15,355.84 L335.52,356.64 L337.89,357.42 L340.26,358.19 L342.64,358.94 L345.02,359.69 L347.41,360.43 L349.79,361.16 L352.19,361.88 L354.58,362.60 L356.97,363.30 L359.37,364.00 L361.77,364.69 L364.18,365.38 L366.58,366.06 L368.99,366.74 L371.40,367.41 L373.81,368.08 L376.22,368.74 L378.63,369.40 L381.04,370.06 L383.46,370.71 L385.88,371.37 L388.29,372.02 L390.71,372.66 L393.13,373.30 L395.55,373.94 L397.98,374.58 L400.40,375.21 L402.82,375.84 L405.25,376.47 L407.68,377.09 L410.11,377.71 L412.54,378.33 L414.97,378.94 L417.40,379.54 L419.83,380.15 L422.27,380.75 L424.70,381.34 L427.14,381.93 L429.58,382.52 L432.02,383.10 L434.46,383.68 L436.90,384.25 L439.34,384.82 L441.79,385.38 L444.23,385.94 L446.68,386.49 L449.12,387.04 L451.57,387.59 L454.02,388.12 L456.47,388.66 L458.92,389.18 L461.38,389.71 L463.83,390.22 L466.29,390.73 L468.74,391.24 L471.20,391.74 L473.66,392.23 L476.12,392.72 L478.58,393.20 L481.04,393.68 L483.50,394.15 L485.97,394.61 L488.43,395.07 L490.90,395.52 L493.37,395.97 L495.83,396.41 L498.30,396.84 L500.77,397.26 L503.25,397.68 L505.72,398.09 L508.19,398.49 L510.67,398.89 L513.14,399.28 L515.62,399.67 L518.10,400.04 L520.57,400.41 L523.05,400.78 L525.53,401.14 L528.02,401.49 L530.50,401.84 L532.98,402.18 L535.46,402.52 L537.95,402.85 L540.43,403.18 L542.92,403.50 L545.41,403.82 L547.89,404.13 L550.38,404.44 L552.87,404.75 L555.36,405.05 L557.85,405.35 L560.34,405.64 L562.83,405.93 L565.32,406.22 L567.81,406.50 L570.31,406.78 L572.80,407.06 L575.29,407.34 L577.78,407.61 L580.28,407.88 L582.77,408.15 L585.27,408.42 L587.76,408.69 L590.26,408.95 L592.75,409.22 L595.25,409.48 L597.74,409.74 L600.24,410.00 L602.73,410.26 L605.23,410.52 L607.72,410.78 L610.22,411.04 L612.71,411.29 L615.21,411.55 L617.71,411.81 L620.20,412.07 L622.70,412.33 L625.19,412.59 L627.69,412.86 L630.18,413.12 L632.68,413.38 L635.17,413.65 L637.67,413.92 L640.16,414.18 L642.65,414.45 L645.15,414.72 L647.64,414.99 L650.14,415.26 L652.63,415.53 L655.12,415.80 L657.62,416.07 L660.11,416.34 L662.60,416.62 L665.10,416.89 L667.59,417.16 L670.08,417.43 L672.58,417.71 L675.07,417.98 L677.56,418.25 L680.05,418.52 L682.55,418.79 L685.04,419.07 L687.53,419.34 L690.03,419.61 L692.52,419.88 L695.01,420.15 L697.50,420.41 L700.00,420.68 L702.49,420.95 L704.98,421.22 L707.48,421.48 L709.97,421.75 L712.46,422.01 L714.96,422.27 L717.45,422.53 L719.94,422.79 L722.44,423.05 L724.93,423.31 L727.42,423.56 L729.92,423.81 L732.41,424.07 L734.91,424.32 L737.40,424.56 L739.89,424.81 L742.39,425.06 L744.88,425.30 L747.38,425.54 L749.87,425.78 L752.37,426.01 L754.86,426.25 L757.36,426.48 L759.85,426.71 L762.35,426.94 L764.84,427.16 L767.34,427.38 L769.84,427.60 L772.33,427.82 L774.83,428.03 L777.33,428.24 L779.83,428.45 L782.32,428.66 L784.82,428.86 L787.32,429.06 L789.82,429.25 L792.32,429.45 L794.81,429.64 L797.31,429.82 L799.81,430.00 L802.31,430.18 L804.81,430.36 L807.31,430.53 L809.82,430.70 L812.32,430.86 L814.82,431.02 L817.32,431.18 L819.82,431.33 L822.32,431.48 L824.83,431.62 L827.33,431.76 L829.83,431.89 L832.34,432.03 L834.84,432.15 L837.35,432.27 L839.85,432.39 L842.36,432.50 L844.87,432.61 L847.37,432.72 L849.88,432.82 L852.39,432.91 L854.89,433.00 L857.40,433.08 L859.91,433.16 L862.42,433.23 L864.93,433.30 L866.67,433.35"/>
<path d="M729.40,120.50 L729.40,164.07"/>
<path d="M760.00,120.50 L762.26,121.56 L764.53,122.64 L766.79,123.75 L769.05,124.87 L771.30,126.02 L773.55,127.20 L775.80,128.40 L778.03,129.62 L780.25,130.87 L782.46,132.14 L784.66,133.44 L786.84,134.77 L789.01,136.12 L791.15,137.50 L793.28,138.91 L795.38,140.34 L797.46,141.81 L799.52,143.30 L801.54,144.82 L803.54,146.37 L805.51,147.96 L807.45,149.57 L809.36,151.21 L811.23,152.88 L813.07,154.59 L814.86,156.33 L816.62,158.10 L818.34,159.90 L820.01,161.74 L821.64,163.61 L823.22,165.51 L824.76,167.45 L826.24,169.43 L827.68,171.44 L829.07,173.48 L830.40,175.56 L831.69,177.67 L832.93,179.81 L834.13,181.98 L835.29,184.18 L836.41,186.40 L837.49,188.64 L838.53,190.91 L839.54,193.20 L840.51,195.50 L841.46,197.82 L842.37,200.16 L843.26,202.51 L844.12,204.88 L844.95,207.26 L845.77,209.64 L846.56,212.04 L847.34,214.45 L848.09,216.86 L848.83,219.28 L849.56,221.71 L850.27,224.15 L850.97,226.59 L851.66,229.03 L852.35,231.48 L853.03,233.93 L853.70,236.38 L854.37,238.84 L855.04,241.29 L855.72,243.74 L856.39,246.20 L857.06,248.65 L857.75,251.09 L858.43,253.54 L859.13,255.98 L859.82,258.42 L860.53,260.85 L861.23,263.29 L861.94,265.72 L862.66,268.15 L863.37,270.58 L864.10,273.00 L864.82,275.42 L865.55,277.85 L866.28,280.27 L867.01,282.68 L867.74,285.10 L868.48,287.52 L869.21,289.93 L869.95,292.34 L870.69,294.75 L871.43,297.16 L872.17,299.57 L872.91,301.98 L873.65,304.39 L874.39,306.80 L875.13,309.21 L875.87,311.62 L876.60,314.02 L877.34,316.43 L878.07,318.84 L878.80,321.24 L879.53,323.65 L880.26,326.06 L880.98,328.47 L881.71,330.88 L882.42,333.29 L883.14,335.70 L883.85,338.11 L884.56,340.52 L885.26,342.93 L885.96,345.35 L886.65,347.76 L887.34,350.18 L888.02,352.60 L888.70,355.02 L889.37,357.44 L890.03,359.87 L890.69,362.29 L891.34,364.72 L891.99,367.15 L892.62,369.58 L893.25,372.02 L893.88,374.46 L894.49,376.90 L895.10,379.34 L895.70,381.78 L896.28,384.23 L896.86,386.69 L897.43,389.14 L898.00,391.60 L898.55,394.06 L899.09,396.52 L899.62,398.99 L900.14,401.47 L900.65,403.94 L901.15,406.42 L901.63,408.91 L901.99,410.77"/>
<path d="M990.00,120.50 L987.63,121.46 L985.28,122.46 L982.95,123.51 L980.64,124.60 L978.36,125.74 L976.10,126.92 L973.87,128.14 L971.67,129.41 L969.49,130.72 L967.35,132.07 L965.24,133.47 L963.16,134.91 L961.12,136.39 L959.11,137.92 L957.14,139.49 L955.21,141.10 L953.32,142.75 L951.47,144.45 L949.66,146.19 L947.89,147.97 L946.17,149.79 L944.48,151.64 L942.84,153.54 L941.24,155.47 L939.69,157.43 L938.17,159.43 L936.69,161.46 L935.25,163.51 L933.84,165.59 L932.47,167.70 L931.14,169.83 L929.85,171.98 L928.59,174.16 L927.37,176.35 L926.17,178.56 L925.02,180.79 L923.89,183.03 L922.80,185.29 L921.74,187.56 L920.71,189.86 L919.71,192.16 L918.74,194.48 L917.80,196.81 L916.89,199.16 L916.00,201.51 L915.15,203.88 L914.32,206.27 L913.52,208.66 L912.74,211.06 L911.99,213.47 L911.26,215.89 L910.56,218.32 L909.88,220.76 L909.22,223.21 L908.59,225.66 L907.98,228.13 L907.38,230.59 L906.81,233.07 L906.26,235.54 L905.73,238.03 L905.22,240.51 L904.73,243.01 L904.25,245.50 L903.79,248.00 L903.35,250.50 L902.92,253.00 L902.51,255.50 L902.12,258.00 L901.74,260.50 L901.37,263.01 L901.02,265.51 L900.69,268.02 L900.36,270.53 L900.06,273.04 L899.77,275.55 L899.49,278.06 L899.22,280.57 L898.98,283.08 L898.74,285.59 L898.52,288.10 L898.31,290.61 L898.12,293.13 L897.94,295.64 L897.77,298.16 L897.62,300.67 L897.48,303.19 L897.35,305.70 L897.24,308.22 L897.14,310.74 L897.05,313.25 L896.97,315.77 L896.91,318.29 L896.86,320.81 L896.82,323.33 L896.80,325.84 L896.79,328.36 L896.79,330.88 L896.80,333.40 L896.82,335.92 L896.85,338.44 L896.90,340.96 L896.96,343.48 L897.03,345.99 L897.11,348.51 L897.20,351.03 L897.31,353.55 L897.42,356.07 L897.55,358.59 L897.68,361.11 L897.83,363.62 L897.99,366.14 L898.16,368.66 L898.33,371.18 L898.52,373.69 L898.72,376.21 L898.93,378.72 L899.15,381.24 L899.38,383.75 L899.62,386.27 L899.87,388.78 L900.12,391.29 L900.39,393.81 L900.67,396.32 L900.96,398.83 L901.25,401.34 L901.55,403.85 L901.87,406.36 L902.19,408.87 L902.43,410.70"/>
<path d="M1016.00,120.50 L1016.00,156.67"/>
<path d="M1045.00,120.50 L1176.59,172.13"/>
<path d="M1122.60,109.60 L1125.11,109.70 L1127.61,109.80 L1130.12,109.90 L1132.63,110.00 L1135.13,110.10 L1137.64,110.19 L1140.15,110.29 L1142.65,110.38 L1145.16,110.48 L1147.67,110.57 L1150.17,110.66 L1152.68,110.76 L1155.19,110.85 L1157.69,110.94 L1160.20,111.03 L1162.71,111.12 L1165.21,111.21 L1167.72,111.30 L1170.23,111.39 L1172.73,111.48 L1175.24,111.57 L1177.74,111.66 L1180.25,111.74 L1182.76,111.83 L1185.26,111.92 L1187.77,112.01 L1190.28,112.10 L1192.78,112.18 L1195.29,112.27 L1197.80,112.36 L1200.30,112.45 L1202.81,112.53 L1205.32,112.62 L1207.82,112.71 L1210.33,112.80 L1212.83,112.89 L1215.34,112.98 L1217.85,113.06 L1220.35,113.15 L1222.86,113.24 L1225.36,113.33 L1227.87,113.42 L1230.38,113.52 L1232.88,113.61 L1235.39,113.70 L1237.89,113.79 L1240.40,113.88 L1242.90,113.98 L1245.41,114.07 L1247.92,114.17 L1250.42,114.26 L1252.93,114.36 L1255.43,114.46 L1257.94,114.56 L1260.44,114.66 L1262.95,114.76 L1265.45,114.86 L1267.96,114.96 L1270.46,115.06 L1272.97,115.17 L1275.47,115.27 L1277.98,115.38 L1280.48,115.49 L1282.99,115.60 L1285.49,115.71 L1288.00,115.82 L1290.50,115.93 L1293.01,116.04 L1295.51,116.16 L1298.01,116.27 L1300.52,116.39 L1303.02,116.51 L1305.53,116.63 L1308.03,116.76 L1310.54,116.88 L1313.04,117.01 L1315.54,117.13 L1318.05,117.26 L1320.55,117.39 L1323.05,117.52 L1325.56,117.66 L1328.06,117.79 L1330.56,117.93 L1333.07,118.07 L1335.57,118.21 L1338.07,118.36 L1340.58,118.50 L1343.08,118.65 L1345.58,118.80 L1348.08,118.95 L1350.59,119.11 L1353.09,119.26 L1355.59,119.42 L1358.09,119.58 L1360.59,119.74 L1363.10,119.91 L1365.60,120.07 L1368.10,120.24 L1370.60,120.42 L1373.10,120.59 L1375.61,120.77 L1378.11,120.95 L1380.61,121.13 L1383.11,121.31 L1385.61,121.50 L1388.11,121.69 L1390.61,121.88 L1393.11,122.08 L1395.61,122.28 L1398.11,122.48 L1400.61,122.68 L1403.11,122.88 L1405.61,123.09 L1408.11,123.31 L1410.61,123.52 L1413.11,123.74 L1415.61,123.96 L1418.11,124.18 L1420.61,124.40 L1423.11,124.63 L1425.61,124.86 L1428.11,125.09 L1430.60,125.32 L1433.10,125.56 L1435.60,125.79 L1438.10,126.03 L1440.60,126.28 L1443.10,126.52 L1445.59,126.76 L1448.09,127.01 L1450.59,127.26 L1453.08,127.51 L1455.58,127.76 L1458.08,128.01 L1460.57,128.27 L1463.07,128.52 L1465.57,128.78 L1468.06,129.04 L1470.56,129.30 L1473.06,129.56 L1475.55,129.82 L1478.05,130.08 L1480.54,130.35 L1483.04,130.61 L1485.53,130.88 L1488.02,131.14 L1490.52,131.41 L1493.01,131.68 L1495.51,131.95 L1498.00,132.22 L1500.49,132.48 L1502.99,132.75 L1505.48,133.02 L1507.97,133.29 L1510.47,133.56 L1512.96,133.83 L1515.45,134.10 L1517.94,134.38 L1520.43,134.65 L1522.93,134.92 L1525.42,135.19 L1527.91,135.46 L1530.40,135.73 L1532.89,136.00 L1535.38,136.27 L1537.87,136.54 L1540.36,136.81 L1542.85,137.09 L1545.34,137.36 L1547.83,137.63 L1550.32,137.91 L1552.81,138.18 L1555.29,138.46 L1557.78,138.74 L1560.27,139.02 L1562.76,139.30 L1565.25,139.58 L1567.73,139.86 L1570.22,140.14 L1572.71,140.43 L1575.20,140.72 L1577.68,141.01 L1580.17,141.30 L1582.66,141.59 L1585.14,141.89 L1587.63,142.18 L1590.12,142.48 L1592.60,142.78 L1595.09,143.09 L1597.57,143.39 L1600.06,143.70 L1602.54,144.01 L1605.03,144.33 L1607.51,144.64 L1610.00,144.96 L1612.48,145.29 L1614.97,145.61 L1617.45,145.94 L1619.93,146.27 L1622.42,146.61 L1624.90,146.95 L1627.38,147.29 L1629.87,147.64 L1632.35,147.99 L1634.83,148.34 L1637.32,148.70 L1639.80,149.06 L1642.28,149.42 L1644.77,149.79 L1647.25,150.16 L1649.73,150.54 L1652.21,150.92 L1654.69,151.31 L1657.17,151.70 L1659.66,152.09 L1662.14,152.49 L1664.61,152.90 L1667.09,153.30 L1669.57,153.72 L1672.05,154.14 L1674.53,154.56 L1677.00,154.99 L1679.48,155.42 L1681.95,155.86 L1684.43,156.31 L1686.90,156.76 L1689.37,157.21 L1691.84,157.68 L1694.31,158.14 L1696.78,158.62 L1699.24,159.09 L1701.71,159.58 L1704.17,160.07 L1706.63,160.57 L1709.10,161.07 L1711.56,161.58 L1714.01,162.10 L1716.47,162.62 L1718.93,163.15 L1721.38,163.68 L1723.83,164.22 L1726.28,164.77 L1728.73,165.33 L1731.17,165.89 L1733.62,166.46 L1736.06,167.04 L1738.50,167.62 L1740.94,168.21 L1743.37,168.81 L1745.81,169.42 L1748.24,170.03 L1750.67,170.65 L1753.10,171.28 L1755.52,171.92 L1757.94,172.56 L1760.36,173.21 L1762.78,173.87 L1765.20,174.54 L1767.61,175.22 L1770.02,175.90 L1772.42,176.59 L1774.83,177.30 L1777.23,178.01 L1779.63,178.72 L1782.02,179.45 L1784.41,180.19 L1786.80,180.93 L1789.19,181.69 L1791.57,182.45 L1793.95,183.22 L1796.33,184.00 L1798.70,184.79 L1801.08,185.59 L1803.44,186.40 L1805.81,187.22 L1808.17,188.05 L1810.52,188.88 L1812.88,189.73 L1815.23,190.59 L1817.57,191.46 L1819.91,192.33 L1822.25,193.22 L1824.59,194.12 L1826.92,195.03 L1829.25,195.94 L1831.57,196.87 L1833.89,197.81 L1836.20,198.76 L1838.51,199.72 L1840.82,200.69 L1843.12,201.67 L1845.42,202.66 L1847.72,203.67 L1850.01,204.68 L1852.29,205.71 L1854.57,206.74 L1856.85,207.79 L1859.12,208.85 L1861.39,209.92 L1863.65,211.00 L1865.91,212.10 L1868.16,213.20 L1870.41,214.32 L1872.66,215.45 L1874.90,216.59 L1877.13,217.75 L1879.35,218.92 L1881.57,220.10 L1883.78,221.30 L1885.98,222.52 L1888.17,223.76 L1890.35,225.01 L1892.52,226.29 L1894.67,227.59 L1896.81,228.91 L1898.93,230.26 L1901.03,231.63 L1903.12,233.03 L1905.19,234.45 L1907.24,235.90 L1909.27,237.39 L1911.28,238.90 L1913.27,240.45 L1915.24,242.03 L1917.18,243.64 L1919.09,245.29 L1920.98,246.97 L1922.85,248.69 L1924.68,250.45 L1926.47,252.25 L1928.21,254.09 L1929.88,255.98 L1931.47,257.91 L1932.96,259.89 L1934.34,261.92 L1935.59,264.00 L1936.71,266.13 L1937.67,268.31 L1938.47,270.55 L1939.10,272.83 L1939.58,275.15 L1939.90,277.50 L1940.07,279.87 L1940.08,282.25 L1939.94,284.64 L1939.65,287.02 L1939.21,289.39 L1938.63,291.73 L1937.90,294.05 L1937.04,296.34 L1936.06,298.60 L1934.95,300.83 L1933.73,303.02 L1932.40,305.18 L1930.98,307.29 L1929.46,309.36 L1927.85,311.38 L1926.16,313.36 L1924.40,315.28 L1922.58,317.15 L1920.70,318.97 L1918.76,320.73 L1916.78,322.43 L1914.76,324.07 L1912.70,325.64 L1910.63,327.14 L1908.53,328.57 L1906.42,329.94 L1904.30,331.24 L1902.16,332.48 L1900.01,333.67 L1897.84,334.81 L1895.66,335.90 L1893.47,336.97 L1891.26,338.00 L1889.04,339.00 L1886.81,339.99 L1884.55,340.96 L1882.29,341.92 L1880.01,342.88 L1878.24,343.62"/>
<path d="M397.50,202.60 L354.03,249.80"/>
<path d="M416.30,202.60 L454.11,256.11"/>
<path d="M432.40,202.60 L556.15,261.01"/>
<path d="M463.00,202.60 L465.49,203.11 L467.97,203.62 L470.46,204.14 L472.95,204.65 L475.43,205.16 L477.92,205.67 L480.41,206.19 L482.89,206.70 L485.38,207.21 L487.87,207.73 L490.35,208.24 L492.84,208.75 L495.33,209.27 L497.81,209.78 L500.30,210.30 L502.79,210.81 L505.27,211.33 L507.76,211.85 L510.25,212.36 L512.73,212.88 L515.22,213.40 L517.70,213.92 L520.19,214.44 L522.67,214.96 L525.16,215.48 L527.65,216.00 L530.13,216.52 L532.62,217.04 L535.10,217.57 L537.58,218.09 L540.07,218.62 L542.55,219.14 L545.04,219.67 L547.52,220.20 L550.01,220.73 L552.49,221.26 L554.97,221.79 L557.45,222.32 L559.94,222.85 L562.42,223.39 L564.90,223.92 L567.38,224.46 L569.87,225.00 L572.35,225.54 L574.83,226.08 L577.31,226.62 L579.79,227.16 L582.27,227.71 L584.75,228.25 L587.23,228.80 L589.71,229.35 L592.19,229.90 L594.67,230.45 L597.14,231.01 L599.62,231.56 L602.10,232.12 L604.58,232.67 L607.05,233.23 L609.53,233.79 L612.00,234.36 L614.48,234.92 L616.95,235.49 L619.43,236.06 L621.90,236.63 L624.38,237.20 L626.85,237.77 L629.32,238.35 L631.80,238.93 L634.27,239.51 L636.74,240.09 L639.21,240.67 L641.68,241.26 L644.15,241.84 L646.62,242.43 L649.09,243.03 L651.56,243.62 L654.02,244.22 L656.49,244.82 L658.96,245.42 L661.42,246.02 L663.89,246.62 L666.35,247.23 L668.82,247.84 L671.28,248.46 L673.75,249.07 L676.21,249.69 L678.67,250.31 L681.13,250.93 L683.59,251.56 L686.05,252.18 L688.51,252.81 L690.97,253.45 L693.43,254.08 L695.89,254.72 L698.34,255.36 L700.80,256.00 L703.26,256.65 L705.71,257.30 L708.16,257.95 L710.62,258.61 L713.07,259.26 L715.52,259.93 L717.97,260.59 L720.42,261.26 L722.87,261.93 L725.32,262.60 L727.16,263.11"/>
<path d="M463.00,202.60 L465.48,203.13 L467.96,203.67 L470.43,204.21 L472.90,204.76 L475.37,205.31 L477.83,205.87 L480.29,206.43 L482.75,207.00 L485.20,207.58 L487.65,208.16 L490.10,208.74 L492.55,209.33 L494.99,209.93 L497.43,210.53 L499.87,211.13 L502.31,211.74 L504.74,212.35 L507.17,212.96 L509.60,213.58 L512.03,214.20 L514.46,214.82 L516.89,215.45 L519.31,216.08 L521.74,216.71 L524.16,217.34 L526.58,217.98 L529.00,218.62 L531.42,219.26 L533.84,219.90 L536.26,220.55 L538.68,221.19 L541.10,221.84 L543.52,222.49 L545.94,223.14 L548.36,223.79 L550.78,224.44 L553.20,225.09 L555.62,225.74 L558.04,226.39 L560.46,227.04 L562.89,227.70 L565.31,228.35 L567.74,229.00 L570.16,229.65 L572.59,230.29 L575.02,230.94 L577.45,231.59 L579.89,232.23 L582.32,232.88 L584.76,233.52 L587.20,234.16 L589.64,234.80 L592.08,235.43 L594.53,236.06 L596.98,236.69 L599.43,237.32 L601.89,237.95 L604.34,238.57 L606.81,239.19 L609.27,239.80 L611.73,240.42 L614.20,241.04 L616.66,241.66 L619.13,242.29 L621.59,242.92 L624.04,243.57 L626.49,244.23 L628.93,244.90 L631.37,245.59 L633.79,246.30 L636.21,247.03 L638.61,247.78 L641.00,248.56 L643.38,249.36 L645.74,250.19 L648.08,251.06 L650.41,251.95 L652.72,252.89 L655.01,253.86 L657.28,254.87 L659.53,255.92 L661.76,257.01 L663.96,258.15 L666.13,259.34 L668.28,260.57 L670.40,261.85 L672.49,263.18 L674.55,264.56 L676.58,265.99 L678.58,267.47 L680.55,268.99 L682.49,270.56 L684.40,272.17 L686.30,273.80 L688.18,275.45 L690.06,277.11 L691.94,278.78 L693.82,280.44 L695.72,282.08 L697.62,283.71 L699.54,285.33 L701.46,286.92 L703.40,288.51 L705.35,290.07 L707.31,291.63 L709.28,293.17 L711.26,294.70 L713.24,296.23 L715.24,297.74 L717.24,299.24 L719.24,300.74 L721.25,302.23 L723.26,303.71 L725.28,305.20 L727.30,306.67 L729.32,308.15 L731.35,309.62 L733.38,311.10 L735.40,312.57 L737.43,314.05 L739.45,315.53 L741.48,317.01 L743.50,318.49 L745.52,319.98 L747.54,321.48 L749.55,322.97 L751.57,324.47 L753.59,325.98 L755.60,327.48 L757.61,328.98 L759.63,330.49 L761.64,332.00 L763.66,333.50 L765.67,335.01 L767.69,336.52 L769.70,338.02 L771.72,339.53 L773.74,341.03 L775.76,342.53 L777.78,344.03 L779.81,345.52 L781.84,347.01 L783.87,348.50 L785.90,349.98 L787.94,351.46 L789.98,352.93 L792.02,354.40 L794.07,355.86 L796.12,357.32 L798.18,358.77 L800.23,360.22 L802.29,361.67 L804.36,363.11 L806.42,364.54 L808.49,365.97 L810.56,367.40 L812.63,368.83 L814.70,370.26 L816.78,371.68 L818.85,373.10 L820.93,374.52 L823.01,375.94 L825.09,377.35 L827.16,378.77 L829.24,380.18 L831.32,381.60 L833.40,383.02 L835.48,384.43 L837.55,385.85 L839.63,387.27 L841.71,388.69 L843.78,390.11 L845.85,391.53 L847.93,392.95 L849.99,394.38 L852.06,395.81 L854.13,397.24 L856.19,398.68 L858.25,400.12 L860.31,401.57 L862.36,403.01 L864.41,404.47 L866.46,405.92 L868.51,407.39 L870.55,408.86 L872.58,410.33 L874.62,411.81 L876.64,413.30 L878.67,414.79 L880.08,415.84"/>
<path d="M596.00,202.60 L736.01,261.53"/>
<path d="M1158.90,202.60 L830.59,265.97"/>
<path d="M1191.40,202.60 L1061.16,261.23"/>
<path d="M1215.70,202.60 L1209.66,253.76"/>
<path d="M1240.70,202.60 L1355.41,260.68"/>
<path d="M1267.90,202.60 L1533.21,263.42"/>
<path d="M1308.40,202.60 L1745.70,264.53"/>
<path d="M1565.90,292.00 L1430.44,344.11"/>
<path d="M1586.20,292.20 L1584.58,294.14 L1582.95,296.07 L1581.30,297.99 L1579.64,299.89 L1577.97,301.78 L1576.27,303.66 L1574.57,305.53 L1572.85,307.38 L1571.11,309.22 L1569.36,311.05 L1567.60,312.86 L1565.82,314.65 L1564.02,316.43 L1562.21,318.20 L1560.39,319.95 L1558.55,321.68 L1556.70,323.40 L1554.83,325.10 L1552.95,326.78 L1551.06,328.45 L1549.15,330.10 L1547.22,331.73 L1545.28,333.34 L1543.33,334.94 L1541.36,336.52 L1539.38,338.07 L1537.39,339.61 L1535.38,341.13 L1533.36,342.63 L1531.32,344.11 L1529.27,345.56 L1527.20,347.00 L1525.13,348.42 L1523.03,349.81 L1520.93,351.19 L1518.81,352.54 L1516.67,353.87 L1514.53,355.18 L1512.37,356.47 L1510.20,357.73 L1508.02,358.98 L1505.83,360.21 L1503.62,361.41 L1501.41,362.60 L1499.18,363.76 L1496.95,364.91 L1494.70,366.03 L1492.45,367.14 L1490.18,368.22 L1487.91,369.29 L1485.63,370.33 L1483.34,371.36 L1481.04,372.37 L1478.73,373.35 L1476.42,374.32 L1474.10,375.27 L1471.77,376.21 L1469.43,377.12 L1467.09,378.01 L1464.75,378.89 L1462.40,379.75 L1460.04,380.59 L1457.68,381.41 L1455.31,382.21 L1452.93,383.00 L1450.55,383.77 L1448.17,384.53 L1445.78,385.27 L1443.39,385.99 L1440.99,386.70 L1438.58,387.39 L1436.17,388.07 L1433.76,388.73 L1431.34,389.37 L1428.92,390.01 L1426.49,390.63 L1424.06,391.23 L1421.63,391.82 L1419.19,392.40 L1416.74,392.96 L1414.30,393.51 L1411.85,394.05 L1409.39,394.58 L1406.94,395.10 L1404.48,395.60 L1402.01,396.09 L1399.54,396.57 L1397.07,397.04 L1394.60,397.50 L1392.12,397.95 L1389.64,398.38 L1387.16,398.81 L1384.68,399.23 L1382.19,399.64 L1379.70,400.04 L1377.21,400.43 L1374.72,400.81 L1372.22,401.19 L1369.72,401.55 L1367.22,401.91 L1364.72,402.26 L1362.22,402.61 L1359.71,402.94 L1357.21,403.27 L1354.70,403.60 L1352.19,403.91 L1349.68,404.22 L1347.17,404.53 L1344.66,404.83 L1342.15,405.12 L1339.63,405.41 L1337.12,405.70 L1334.60,405.98 L1332.09,406.25 L1329.57,406.53 L1327.06,406.80 L1324.54,407.06 L1322.02,407.32 L1319.51,407.58 L1316.99,407.84 L1314.47,408.10 L1311.96,408.35 L1309.44,408.60 L1306.93,408.85 L1304.41,409.09 L1301.90,409.34 L1299.38,409.58 L1296.87,409.82 L1294.35,410.05 L1291.84,410.29 L1289.33,410.52 L1286.81,410.75 L1284.30,410.98 L1281.79,411.21 L1279.27,411.43 L1276.76,411.65 L1274.25,411.87 L1271.73,412.09 L1269.22,412.31 L1266.71,412.52 L1264.20,412.74 L1261.68,412.95 L1259.17,413.16 L1256.66,413.36 L1254.15,413.57 L1251.64,413.77 L1249.13,413.97 L1246.61,414.17 L1244.10,414.37 L1241.59,414.57 L1239.08,414.76 L1236.57,414.96 L1234.06,415.15 L1231.55,415.34 L1229.04,415.53 L1226.53,415.72 L1224.02,415.90 L1221.51,416.09 L1219.00,416.27 L1216.49,416.45 L1213.98,416.63 L1211.47,416.81 L1208.96,416.99 L1206.45,417.16 L1203.94,417.34 L1201.43,417.51 L1198.92,417.68 L1196.41,417.86 L1193.90,418.03 L1191.39,418.19 L1188.88,418.36 L1186.37,418.53 L1183.86,418.69 L1181.35,418.86 L1178.84,419.02 L1176.33,419.18 L1173.82,419.34 L1171.31,419.50 L1168.80,419.66 L1166.30,419.82 L1163.79,419.98 L1161.28,420.13 L1158.77,420.29 L1156.26,420.44 L1153.75,420.59 L1151.24,420.75 L1148.73,420.90 L1146.22,421.05 L1143.71,421.20 L1141.20,421.35 L1138.70,421.50 L1136.19,421.65 L1133.68,421.80 L1131.17,421.94 L1128.66,422.09 L1126.15,422.23 L1123.64,422.38 L1121.13,422.52 L1118.62,422.67 L1116.11,422.81 L1113.60,422.96 L1111.09,423.10 L1108.58,423.24 L1106.07,423.38 L1103.57,423.52 L1101.06,423.67 L1098.55,423.81 L1096.04,423.95 L1093.53,424.09 L1091.02,424.23 L1088.51,424.37 L1086.00,424.51 L1083.49,424.65 L1080.98,424.79 L1078.47,424.93 L1075.95,425.07 L1073.44,425.21 L1070.93,425.34 L1068.42,425.48 L1065.91,425.62 L1063.40,425.76 L1060.89,425.90 L1058.38,426.04 L1055.87,426.18 L1053.36,426.32 L1050.84,426.46 L1048.33,426.60 L1045.82,426.74 L1043.31,426.88 L1040.80,427.02 L1038.28,427.16 L1035.77,427.30 L1033.26,427.44 L1030.75,427.58 L1028.23,427.72 L1025.72,427.87 L1023.21,428.01 L1020.69,428.15 L1018.18,428.29 L1015.67,428.44 L1013.15,428.58 L1010.64,428.73 L1008.13,428.87 L1005.61,429.02 L1003.10,429.17 L1000.58,429.31 L998.07,429.46 L995.55,429.61 L993.04,429.76 L990.52,429.91 L988.00,430.06 L985.49,430.21 L982.97,430.36 L980.46,430.51 L977.94,430.67 L975.42,430.82 L972.91,430.98 L970.39,431.13 L967.87,431.29 L965.35,431.45 L962.84,431.61 L960.32,431.77 L957.80,431.93 L955.28,432.09 L952.76,432.25 L950.24,432.42 L947.72,432.58 L945.90,432.70"/>
<path d="M1794.90,292.00 L1675.24,343.62"/>
<path d="M1821.60,292.00 L1822.90,335.58"/>
<path d="M1753.50,373.30 L1751.00,373.55 L1748.51,373.80 L1746.01,374.05 L1743.51,374.31 L1741.01,374.56 L1738.52,374.81 L1736.02,375.06 L1733.52,375.31 L1731.02,375.55 L1728.53,375.80 L1726.03,376.05 L1723.53,376.30 L1721.03,376.55 L1718.53,376.79 L1716.04,377.04 L1713.54,377.28 L1711.04,377.53 L1708.54,377.77 L1706.05,378.02 L1703.55,378.26 L1701.05,378.51 L1698.55,378.75 L1696.05,378.99 L1693.55,379.23 L1691.06,379.48 L1688.56,379.72 L1686.06,379.96 L1683.56,380.20 L1681.06,380.44 L1678.57,380.68 L1676.07,380.92 L1673.57,381.15 L1671.07,381.39 L1668.57,381.63 L1666.07,381.87 L1663.57,382.11 L1661.08,382.34 L1658.58,382.58 L1656.08,382.81 L1653.58,383.05 L1651.08,383.28 L1648.58,383.52 L1646.08,383.75 L1643.58,383.98 L1641.08,384.22 L1638.59,384.45 L1636.09,384.68 L1633.59,384.91 L1631.09,385.14 L1628.59,385.38 L1626.09,385.61 L1623.59,385.84 L1621.09,386.06 L1618.59,386.29 L1616.09,386.52 L1613.59,386.75 L1611.09,386.98 L1608.59,387.21 L1606.09,387.43 L1603.59,387.66 L1601.10,387.88 L1598.60,388.11 L1596.10,388.34 L1593.60,388.56 L1591.10,388.78 L1588.60,389.01 L1586.10,389.23 L1583.60,389.45 L1581.10,389.68 L1578.60,389.90 L1576.10,390.12 L1573.60,390.34 L1571.10,390.56 L1568.60,390.78 L1566.10,391.00 L1563.60,391.22 L1561.10,391.44 L1558.60,391.66 L1556.10,391.88 L1553.60,392.10 L1551.10,392.31 L1548.60,392.53 L1546.10,392.75 L1543.59,392.96 L1541.09,393.18 L1538.59,393.39 L1536.09,393.61 L1533.59,393.82 L1531.09,394.04 L1528.59,394.25 L1526.09,394.46 L1523.59,394.68 L1521.09,394.89 L1518.59,395.10 L1516.09,395.31 L1513.59,395.52 L1511.09,395.73 L1508.58,395.94 L1506.08,396.15 L1503.58,396.36 L1501.08,396.57 L1498.58,396.78 L1496.08,396.99 L1493.58,397.20 L1491.08,397.40 L1488.58,397.61 L1486.08,397.82 L1483.57,398.02 L1481.07,398.23 L1478.57,398.43 L1476.07,398.64 L1473.57,398.84 L1471.07,399.05 L1468.57,399.25 L1466.06,399.45 L1463.56,399.65 L1461.06,399.86 L1458.56,400.06 L1456.06,400.26 L1453.56,400.46 L1451.05,400.66 L1448.55,400.86 L1446.05,401.06 L1443.55,401.26 L1441.05,401.46 L1438.55,401.66 L1436.04,401.85 L1433.54,402.05 L1431.04,402.25 L1428.54,402.45 L1426.04,402.64 L1423.53,402.84 L1421.03,403.03 L1418.53,403.23 L1416.03,403.42 L1413.53,403.62 L1411.02,403.81 L1408.52,404.01 L1406.02,404.20 L1403.52,404.39 L1401.01,404.58 L1398.51,404.77 L1396.01,404.97 L1393.51,405.16 L1391.00,405.35 L1388.50,405.54 L1386.00,405.73 L1383.50,405.92 L1380.99,406.11 L1378.49,406.29 L1375.99,406.48 L1373.49,406.67 L1370.98,406.86 L1368.48,407.04 L1365.98,407.23 L1363.47,407.42 L1360.97,407.60 L1358.47,407.79 L1355.97,407.97 L1353.46,408.16 L1350.96,408.34 L1348.46,408.52 L1345.95,408.71 L1343.45,408.89 L1340.95,409.07 L1338.45,409.26 L1335.94,409.44 L1333.44,409.62 L1330.94,409.80 L1328.43,409.98 L1325.93,410.16 L1323.43,410.34 L1320.92,410.52 L1318.42,410.70 L1315.92,410.88 L1313.41,411.05 L1310.91,411.23 L1308.41,411.41 L1305.90,411.58 L1303.40,411.76 L1300.89,411.94 L1298.39,412.11 L1295.89,412.29 L1293.38,412.46 L1290.88,412.64 L1288.38,412.81 L1285.87,412.98 L1283.37,413.16 L1280.87,413.33 L1278.36,413.50 L1275.86,413.67 L1273.35,413.85 L1270.85,414.02 L1268.35,414.19 L1265.84,414.36 L1263.34,414.53 L1260.83,414.70 L1258.33,414.87 L1255.83,415.04 L1253.32,415.20 L1250.82,415.37 L1248.31,415.54 L1245.81,415.71 L1243.31,415.87 L1240.80,416.04 L1238.30,416.21 L1235.79,416.37 L1233.29,416.54 L1230.78,416.70 L1228.28,416.87 L1225.78,417.03 L1223.27,417.20 L1220.77,417.36 L1218.26,417.52 L1215.76,417.68 L1213.25,417.85 L1210.75,418.01 L1208.24,418.17 L1205.74,418.33 L1203.23,418.49 L1200.73,418.65 L1198.23,418.81 L1195.72,418.97 L1193.22,419.13 L1190.71,419.29 L1188.21,419.45 L1185.70,419.60 L1183.20,419.76 L1180.69,419.92 L1178.19,420.08 L1175.68,420.23 L1173.18,420.39 L1170.67,420.54 L1168.17,420.70 L1165.66,420.85 L1163.16,421.01 L1160.65,421.16 L1158.15,421.31 L1155.64,421.47 L1153.14,421.62 L1150.63,421.77 L1148.13,421.93 L1145.62,422.08 L1143.12,422.23 L1140.61,422.38 L1138.11,422.53 L1135.60,422.68 L1133.10,422.83 L1130.59,422.98 L1128.09,423.13 L1125.58,423.28 L1123.07,423.43 L1120.57,423.57 L1118.06,423.72 L1115.56,423.87 L1113.05,424.01 L1110.55,424.16 L1108.04,424.31 L1105.54,424.45 L1103.03,424.60 L1100.52,424.74 L1098.02,424.89 L1095.51,425.03 L1093.01,425.17 L1090.50,425.32 L1088.00,425.46 L1085.49,425.60 L1082.98,425.75 L1080.48,425.89 L1077.97,426.03 L1075.47,426.17 L1072.96,426.31 L1070.46,426.45 L1067.95,426.59 L1065.44,426.73 L1062.94,426.87 L1060.43,427.01 L1057.93,427.15 L1055.42,427.28 L1052.91,427.42 L1050.41,427.56 L1047.90,427.70 L1045.40,427.83 L1042.89,427.97 L1040.38,428.11 L1037.88,428.24 L1035.37,428.38 L1032.86,428.51 L1030.36,428.64 L1027.85,428.78 L1025.35,428.91 L1022.84,429.05 L1020.33,429.18 L1017.83,429.31 L1015.32,429.44 L1012.81,429.57 L1010.31,429.71 L1007.80,429.84 L1005.29,429.97 L1002.79,430.10 L1000.28,430.23 L997.78,430.36 L995.27,430.49 L992.76,430.62 L990.26,430.74 L987.75,430.87 L985.24,431.00 L982.74,431.13 L980.23,431.25 L977.72,431.38 L975.22,431.51 L972.71,431.63 L970.20,431.76 L967.70,431.88 L965.19,432.01 L962.68,432.13 L960.18,432.26 L957.67,432.38 L955.16,432.50 L952.66,432.63 L950.15,432.75 L947.64,432.87 L945.91,432.96"/>
<path d="M1805.00,373.80 L1736.91,416.25"/>
<path d="M1838.80,373.80 L1890.94,415.03"/>
<path d="M1918.30,373.30 L1915.80,373.53 L1913.31,373.75 L1910.81,373.97 L1908.31,374.19 L1905.82,374.41 L1903.32,374.63 L1900.82,374.85 L1898.33,375.07 L1895.83,375.28 L1893.33,375.50 L1890.83,375.72 L1888.34,375.94 L1885.84,376.15 L1883.34,376.37 L1880.85,376.58 L1878.35,376.80 L1875.85,377.01 L1873.35,377.22 L1870.86,377.44 L1868.36,377.65 L1865.86,377.86 L1863.36,378.07 L1860.87,378.28 L1858.37,378.49 L1855.87,378.70 L1853.37,378.91 L1850.87,379.12 L1848.38,379.33 L1845.88,379.54 L1843.38,379.75 L1840.88,379.95 L1838.39,380.16 L1835.89,380.37 L1833.39,380.57 L1830.89,380.78 L1828.39,380.98 L1825.89,381.19 L1823.40,381.39 L1820.90,381.59 L1818.40,381.80 L1815.90,382.00 L1813.40,382.20 L1810.90,382.40 L1808.41,382.60 L1805.91,382.80 L1803.41,383.00 L1800.91,383.20 L1798.41,383.40 L1795.91,383.60 L1793.42,383.80 L1790.92,384.00 L1788.42,384.19 L1785.92,384.39 L1783.42,384.59 L1780.92,384.78 L1778.42,384.98 L1775.92,385.17 L1773.42,385.37 L1770.93,385.56 L1768.43,385.76 L1765.93,385.95 L1763.43,386.14 L1760.93,386.34 L1758.43,386.53 L1755.93,386.72 L1753.43,386.91 L1750.93,387.10 L1748.43,387.29 L1745.93,387.48 L1743.44,387.67 L1740.94,387.86 L1738.44,388.05 L1735.94,388.24 L1733.44,388.42 L1730.94,388.61 L1728.44,388.80 L1725.94,388.99 L1723.44,389.17 L1720.94,389.36 L1718.44,389.54 L1715.94,389.73 L1713.44,389.91 L1710.94,390.10 L1708.44,390.28 L1705.94,390.46 L1703.44,390.64 L1700.94,390.83 L1698.44,391.01 L1695.94,391.19 L1693.44,391.37 L1690.94,391.55 L1688.44,391.73 L1685.94,391.91 L1683.44,392.09 L1680.94,392.27 L1678.44,392.45 L1675.94,392.63 L1673.44,392.81 L1670.94,392.98 L1668.44,393.16 L1665.94,393.34 L1663.44,393.51 L1660.94,393.69 L1658.44,393.87 L1655.94,394.04 L1653.44,394.22 L1650.94,394.39 L1648.44,394.56 L1645.94,394.74 L1643.44,394.91 L1640.94,395.08 L1638.44,395.26 L1635.93,395.43 L1633.43,395.60 L1630.93,395.77 L1628.43,395.94 L1625.93,396.11 L1623.43,396.28 L1620.93,396.45 L1618.43,396.62 L1615.93,396.79 L1613.43,396.96 L1610.93,397.13 L1608.43,397.30 L1605.93,397.47 L1603.42,397.63 L1600.92,397.80 L1598.42,397.97 L1595.92,398.13 L1593.42,398.30 L1590.92,398.47 L1588.42,398.63 L1585.92,398.80 L1583.42,398.96 L1580.91,399.12 L1578.41,399.29 L1575.91,399.45 L1573.41,399.61 L1570.91,399.78 L1568.41,399.94 L1565.91,400.10 L1563.40,400.26 L1560.90,400.43 L1558.40,400.59 L1555.90,400.75 L1553.40,400.91 L1550.90,401.07 L1548.40,401.23 L1545.89,401.39 L1543.39,401.55 L1540.89,401.71 L1538.39,401.86 L1535.89,402.02 L1533.39,402.18 L1530.88,402.34 L1528.38,402.49 L1525.88,402.65 L1523.38,402.81 L1520.88,402.96 L1518.38,403.12 L1515.87,403.28 L1513.37,403.43 L1510.87,403.59 L1508.37,403.74 L1505.87,403.90 L1503.36,404.05 L1500.86,404.20 L1498.36,404.36 L1495.86,404.51 L1493.36,404.66 L1490.85,404.81 L1488.35,404.97 L1485.85,405.12 L1483.35,405.27 L1480.85,405.42 L1478.34,405.57 L1475.84,405.72 L1473.34,405.87 L1470.84,406.02 L1468.33,406.17 L1465.83,406.32 L1463.33,406.47 L1460.83,406.62 L1458.33,406.77 L1455.82,406.92 L1453.32,407.07 L1450.82,407.22 L1448.32,407.36 L1445.81,407.51 L1443.31,407.66 L1440.81,407.80 L1438.31,407.95 L1435.80,408.10 L1433.30,408.24 L1430.80,408.39 L1428.30,408.53 L1425.79,408.68 L1423.29,408.82 L1420.79,408.97 L1418.29,409.11 L1415.78,409.26 L1413.28,409.40 L1410.78,409.54 L1408.28,409.69 L1405.77,409.83 L1403.27,409.97 L1400.77,410.11 L1398.26,410.26 L1395.76,410.40 L1393.26,410.54 L1390.76,410.68 L1388.25,410.82 L1385.75,410.96 L1383.25,411.10 L1380.75,411.25 L1378.24,411.39 L1375.74,411.53 L1373.24,411.66 L1370.73,411.80 L1368.23,411.94 L1365.73,412.08 L1363.22,412.22 L1360.72,412.36 L1358.22,412.50 L1355.72,412.64 L1353.21,412.77 L1350.71,412.91 L1348.21,413.05 L1345.70,413.19 L1343.20,413.32 L1340.70,413.46 L1338.19,413.60 L1335.69,413.73 L1333.19,413.87 L1330.68,414.00 L1328.18,414.14 L1325.68,414.27 L1323.18,414.41 L1320.67,414.54 L1318.17,414.68 L1315.67,414.81 L1313.16,414.95 L1310.66,415.08 L1308.16,415.22 L1305.65,415.35 L1303.15,415.48 L1300.65,415.62 L1298.14,415.75 L1295.64,415.88 L1293.14,416.01 L1290.63,416.15 L1288.13,416.28 L1285.63,416.41 L1283.12,416.54 L1280.62,416.67 L1278.12,416.80 L1275.61,416.94 L1273.11,417.07 L1270.61,417.20 L1268.10,417.33 L1265.60,417.46 L1263.10,417.59 L1260.59,417.72 L1258.09,417.85 L1255.58,417.98 L1253.08,418.11 L1250.58,418.24 L1248.07,418.37 L1245.57,418.49 L1243.07,418.62 L1240.56,418.75 L1238.06,418.88 L1235.56,419.01 L1233.05,419.14 L1230.55,419.26 L1228.05,419.39 L1225.54,419.52 L1223.04,419.65 L1220.54,419.77 L1218.03,419.90 L1215.53,420.03 L1213.02,420.15 L1210.52,420.28 L1208.02,420.41 L1205.51,420.53 L1203.01,420.66 L1200.51,420.79 L1198.00,420.91 L1195.50,421.04 L1193.00,421.16 L1190.49,421.29 L1187.99,421.41 L1185.48,421.54 L1182.98,421.66 L1180.48,421.79 L1177.97,421.91 L1175.47,422.04 L1172.97,422.16 L1170.46,422.28 L1167.96,422.41 L1165.45,422.53 L1162.95,422.65 L1160.45,422.78 L1157.94,422.90 L1155.44,423.02 L1152.94,423.15 L1150.43,423.27 L1147.93,423.39 L1145.42,423.52 L1142.92,423.64 L1140.42,423.76 L1137.91,423.88 L1135.41,424.01 L1132.91,424.13 L1130.40,424.25 L1127.90,424.37 L1125.39,424.49 L1122.89,424.62 L1120.39,424.74 L1117.88,424.86 L1115.38,424.98 L1112.87,425.10 L1110.37,425.22 L1107.87,425.34 L1105.36,425.46 L1102.86,425.58 L1100.36,425.70 L1097.85,425.82 L1095.35,425.94 L1092.84,426.07 L1090.34,426.19 L1087.84,426.31 L1085.33,426.43 L1082.83,426.54 L1080.32,426.66 L1077.82,426.78 L1075.32,426.90 L1072.81,427.02 L1070.31,427.14 L1067.81,427.26 L1065.30,427.38 L1062.80,427.50 L1060.29,427.62 L1057.79,427.74 L1055.29,427.86 L1052.78,427.98 L1050.28,428.09 L1047.77,428.21 L1045.27,428.33 L1042.77,428.45 L1040.26,428.57 L1037.76,428.69 L1035.26,428.80 L1032.75,428.92 L1030.25,429.04 L1027.74,429.16 L1025.24,429.28 L1022.74,429.39 L1020.23,429.51 L1017.73,429.63 L1015.22,429.75 L1012.72,429.87 L1010.22,429.98 L1007.71,430.10 L1005.21,430.22 L1002.71,430.33 L1000.20,430.45 L997.70,430.57 L995.19,430.69 L992.69,430.80 L990.19,430.92 L987.68,431.04 L985.18,431.15 L982.68,431.27 L980.17,431.39 L977.67,431.50 L975.16,431.62 L972.66,431.74 L970.16,431.85 L967.65,431.97 L965.15,432.09 L962.64,432.20 L960.14,432.32 L957.64,432.44 L955.13,432.55 L952.63,432.67 L950.13,432.79 L947.62,432.90 L945.92,432.98"/>
<path d="M1992.60,373.80 L1940.55,415.02"/>
<path d="M2029.00,373.80 L2107.71,416.90"/>
<path d="M2079.70,120.50 L2083.23,164.51"/>
</g>
<g fill="#191970" stroke="#191970" stroke-width="1.33">
<polygon points="180.39,95.26 192.69,88.23 194.35,97.69"/>
<polygon points="318.27,96.79 329.85,88.62 332.40,97.87"/>
<polygon points="432.82,94.45 442.64,84.23 446.89,92.83"/>
<polygon points="424.12,176.59 431.37,164.42 437.47,171.84"/>
<polygon points="568.00,176.60 563.20,163.27 572.80,163.27"/>
<polygon points="705.28,94.45 691.19,92.95 695.38,84.32"/>
<polygon points="951.21,94.56 937.25,96.99 938.91,87.54"/>
<polygon points="2004.00,347.86 1994.61,337.25 2003.53,333.70"/>
<polygon points="2050.70,98.41 2036.93,101.74 2037.97,92.20"/>
<polygon points="134.78,176.81 146.57,168.96 148.87,178.28"/>
<polygon points="408.01,176.60 403.35,163.22 412.95,163.32"/>
<polygon points="879.20,433.58 865.78,438.13 865.96,428.53"/>
<polygon points="729.40,176.60 724.60,163.27 734.20,163.27"/>
<polygon points="904.16,423.11 897.12,410.82 906.58,409.15"/>
<polygon points="904.19,423.11 897.57,410.58 907.07,409.24"/>
<polygon points="1016.00,169.20 1011.20,155.87 1020.80,155.87"/>
<polygon points="1188.26,176.71 1174.09,176.31 1177.60,167.37"/>
<polygon points="1866.73,348.58 1877.08,338.90 1880.88,347.72"/>
<polygon points="345.54,259.01 351.04,245.95 358.10,252.46"/>
<polygon points="461.34,266.35 449.73,258.23 457.57,252.69"/>
<polygon points="567.48,266.36 553.37,265.01 557.47,256.33"/>
<polygon points="739.23,266.48 725.10,267.51 727.69,258.27"/>
<polygon points="890.06,423.42 876.54,419.18 882.35,411.53"/>
<polygon points="747.56,266.39 733.41,265.64 737.14,256.79"/>
<polygon points="818.29,268.35 830.46,261.11 832.28,270.53"/>
<polygon points="1049.73,266.37 1059.91,256.52 1063.86,265.28"/>
<polygon points="1208.19,266.21 1204.99,252.40 1214.52,253.53"/>
<polygon points="1366.59,266.34 1352.53,264.60 1356.86,256.03"/>
<polygon points="1545.42,266.22 1531.35,267.92 1533.50,258.56"/>
<polygon points="1758.11,266.29 1744.24,269.17 1745.58,259.67"/>
<polygon points="1418.75,348.61 1429.46,339.35 1432.91,348.31"/>
<polygon points="933.40,433.55 946.38,427.86 947.02,437.44"/>
<polygon points="1663.73,348.58 1674.07,338.90 1677.88,347.71"/>
<polygon points="1823.28,348.10 1818.08,334.92 1827.68,334.63"/>
<polygon points="933.40,433.56 946.48,428.12 946.95,437.71"/>
<polygon points="1726.28,422.88 1735.05,411.75 1740.13,419.90"/>
<polygon points="1900.77,422.80 1887.34,418.30 1893.29,410.77"/>
<polygon points="933.40,433.56 946.49,428.15 946.94,437.74"/>
<polygon points="1930.73,422.80 1938.20,410.76 1944.16,418.29"/>
<polygon points="2118.70,422.92 2104.70,420.72 2109.31,412.30"/>
<polygon points="2084.24,177.00 2078.38,164.10 2087.95,163.33"/>
</g>
</svg></body></html>
